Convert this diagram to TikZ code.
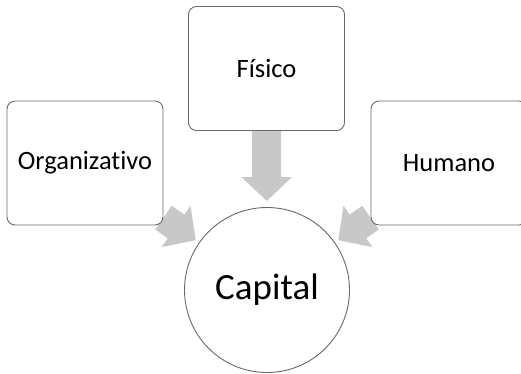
\documentclass[tikz,border=0pt]{standalone}
\usepackage{fontspec}
\setmainfont{Carlito}[Ligatures=NoCommon]
\usetikzlibrary{arrows.meta,backgrounds}
\definecolor{arrowgray}{RGB}{200,200,200}
\definecolor{edgegray}{RGB}{105,105,105}

\begin{document}
\begin{tikzpicture}[x=1pt,y=-1pt,
    box/.style={draw=edgegray, line width=0.9pt, fill=white, rounded corners=8pt,
      minimum width=156pt, minimum height=124pt, inner sep=0pt,
      font=\fontsize{26.5}{30}\selectfont},
    fat/.style={draw=arrowgray, line width=29pt,
      -{Triangle[length=24pt, width=49pt]}}]
\clip (0,0) rectangle (521,373);
\node[box] (org) at (85,163) {Organizativo};
\node[box] (fis) at (266.5,68.5) {Físico};
\node[box] (hum) at (449,163) {Humano};
\node[circle, draw=edgegray, line width=0.9pt, fill=white, minimum size=165pt,
  inner sep=0pt, font=\fontsize{37}{42}\selectfont] (cap) at (267,290) {Capital};

\begin{scope}[on background layer]
    \draw[fat, shorten >=6pt] (fis) -- (cap);
    \draw[fat, shorten >=4pt] (org) -- (cap);
    \draw[fat, shorten >=4pt] (hum) -- (cap);
\end{scope}
\end{tikzpicture}
\end{document}
